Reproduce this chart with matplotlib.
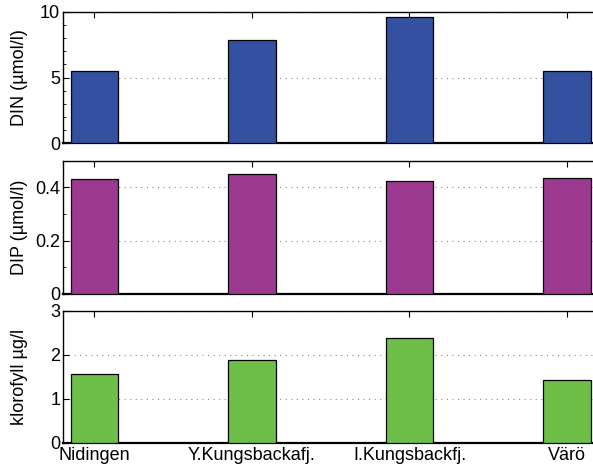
import matplotlib
matplotlib.use("Agg")
import matplotlib.pyplot as plt
from matplotlib.ticker import MultipleLocator

plt.rcParams['font.family'] = ['Liberation Sans', 'DejaVu Sans']

stations = ['Nidingen', 'Y.Kungsbackafj.', 'I.Kungsbackfj.', 'Värö']
din = [5.5, 7.9, 9.65, 5.5]
dip = [0.433, 0.45, 0.425, 0.435]
klorofyll = [1.56, 1.89, 2.37, 1.42]

xpos = [1, 2, 3, 4]

fig = plt.figure(figsize=(5.93, 4.68), dpi=100)

# axes boxes in figure fractions (left, bottom, width, height)
left = 63 / 593
width = 535.5 / 593
boxes = [
    (left, 1 - 143 / 468, width, 131 / 468),
    (left, 1 - 293.7 / 468, width, 133 / 468),
    (left, 1 - 442.7 / 468, width, 132 / 468),
]

panels = [
    (din, '#3450a0', 'DIN (µmol/l)', (0, 10), [0, 5, 10], ['0', '5', '10'], 1),
    (dip, '#9c3a91', 'DIP (µmol/l)', (0, 0.5), [0, 0.2, 0.4], ['0', '0.2', '0.4'], 0.1),
    (klorofyll, '#6dbf47', 'klorofyll µg/l', (0, 3), [0, 1, 2, 3], ['0', '1', '2', '3'], None),
]

for box, (vals, col, lab, ylim, yt, ytl, minor) in zip(boxes, panels):
    ax = fig.add_axes(box)
    ax.set_axisbelow(True)
    ax.bar(xpos, vals, width=0.3, color=col, edgecolor='black', linewidth=0.9, zorder=3)
    ax.set_xlim(0.8, 4.2)
    ax.set_ylim(*ylim)
    ax.set_yticks(yt)
    ax.set_yticklabels(ytl)
    if minor:
        ax.yaxis.set_minor_locator(MultipleLocator(minor))
    ax.yaxis.grid(True, which='major', linestyle=(0, (1, 4)), color='#888888', linewidth=0.8)
    ax.set_xticks(xpos)
    if box is boxes[-1]:
        ax.set_xticklabels(stations)
    else:
        ax.set_xticklabels([])
    ax.tick_params(axis='both', direction='in', labelsize=13, length=4, width=0.8,
                   top=True, pad=2)
    ax.tick_params(axis='x', pad=3)
    ax.tick_params(axis='y', which='minor', direction='in', length=2.5, width=0.6)
    for s in ['top', 'left', 'right']:
        ax.spines[s].set_linewidth(1.0)
    ax.spines['bottom'].set_linewidth(1.6)
    ax.set_ylabel(lab, fontsize=13)
    ax.yaxis.set_label_coords(-0.066, 0.5)

fig.savefig('out.png', dpi=100)
